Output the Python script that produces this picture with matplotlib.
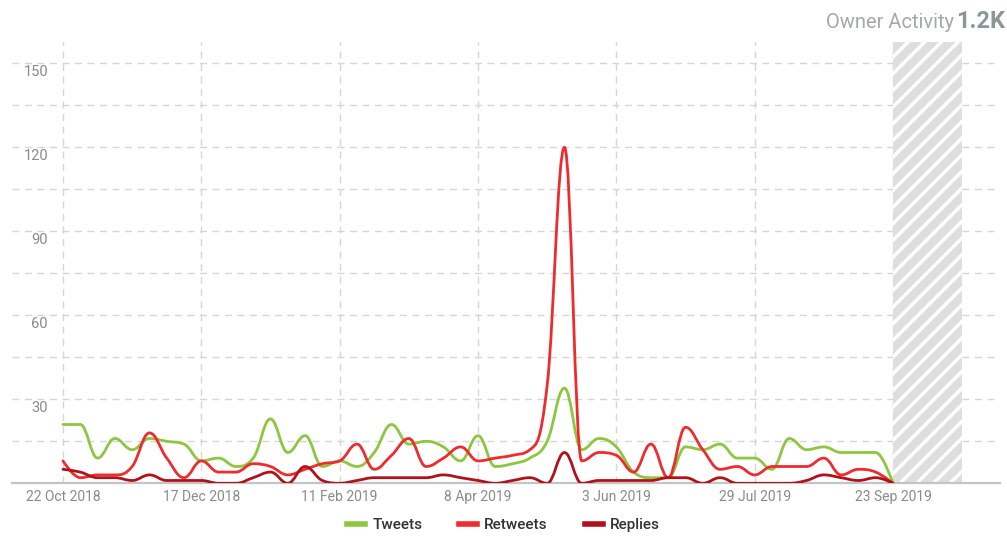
import datetime as dt
import matplotlib
matplotlib.use('Agg')
import matplotlib.pyplot as plt
import matplotlib.dates as mdates
from matplotlib.path import Path
from matplotlib.patches import PathPatch
from matplotlib.lines import Line2D
from matplotlib import transforms

plt.rcParams['font.family'] = ['Roboto', 'DejaVu Sans']
plt.rcParams['hatch.linewidth'] = 2.5

# weekly buckets starting 22 Oct 2018
start = dt.date(2018, 10, 22)
weeks = [start + dt.timedelta(weeks=i) for i in range(49)]

tweets = [21, 21, 9, 16, 12, 16, 15, 14, 8, 9,
          6, 9, 23, 11, 17, 6, 8, 6, 11, 21,
          14, 15, 13, 8, 17, 6, 7, 9, 15, 34,
          12, 16, 13, 4, 2, 2, 13, 12, 14, 9,
          9, 5, 16, 12, 13, 11, 11, 11, 0]
retweets = [8, 2, 3, 3, 6, 18, 9, 2, 8, 4,
            4, 7, 6, 3, 5, 7, 8, 14, 5, 10,
            16, 6, 9, 13, 8, 9, 10, 12, 35, 120,
            8, 11, 10, 4, 14, 2, 20, 12, 5, 6,
            3, 6, 6, 6, 9, 3, 5, 4, 0]
replies = [5, 4, 2, 2, 1, 3, 1, 1, 1, 0,
           0, 2, 4, 0, 6, 1, 0, 1, 2, 2,
           2, 2, 3, 2, 1, 0, 1, 2, 0, 11,
           0, 1, 1, 1, 1, 2, 2, 0, 2, 0,
           0, 0, 0, 1, 3, 2, 1, 2, 0]

series_names = ['Tweets', 'Retweets', 'Replies']
series_colors = ['#8dc63f', '#ef2b2d', '#b0121b']

y_grid = list(range(0, 151, 15))
y_labels = [30, 60, 90, 120, 150]
x_ticks = [start + dt.timedelta(weeks=8 * i) for i in range(7)]
total_label = '1.2K'


def spline_path(xs, ys, smoothing=1.5):
    # bezier spline, same control point rule as a highcharts 'spline' series
    n = len(xs)
    left = [(xs[i], ys[i]) for i in range(n)]
    right = [(xs[i], ys[i]) for i in range(n)]
    d = smoothing + 1
    for i in range(1, n - 1):
        x, y = xs[i], ys[i]
        lx, ly = xs[i - 1], ys[i - 1]
        nx, ny = xs[i + 1], ys[i + 1]
        lcx = (smoothing * x + lx) / d
        lcy = (smoothing * y + ly) / d
        rcx = (smoothing * x + nx) / d
        rcy = (smoothing * y + ny) / d
        corr = (rcy - lcy) * (rcx - x) / (rcx - lcx) + y - rcy
        lcy += corr
        rcy += corr
        if lcy > ly and lcy > y:
            lcy = max(ly, y)
            rcy = 2 * y - lcy
        elif lcy < ly and lcy < y:
            lcy = min(ly, y)
            rcy = 2 * y - lcy
        if rcy > ny and rcy > y:
            rcy = max(ny, y)
            lcy = 2 * y - rcy
        elif rcy < ny and rcy < y:
            rcy = min(ny, y)
            lcy = 2 * y - rcy
        left[i] = (lcx, lcy)
        right[i] = (rcx, rcy)
    verts = [(xs[0], ys[0])]
    codes = [Path.MOVETO]
    for i in range(1, n):
        verts += [right[i - 1], left[i], (xs[i], ys[i])]
        codes += [Path.CURVE4] * 3
    return Path(verts, codes)


fig = plt.figure(figsize=(10.07, 5.36), dpi=100)
ax = fig.add_axes([12 / 1007, (536 - 483.3) / 536, 988 / 1007, (483.3 - 42) / 536])

x0 = mdates.date2num(start)
px_day = 830 / 336
ax.set_xlim(x0 - 51 / px_day, x0 + 937 / px_day)
ax.set_ylim(0, (483.3 - 42) / 2.8)

xs = [mdates.date2num(w) for w in weeks]

# grey hatched band after the last bucket
ax.axvspan(xs[-1], xs[-1] + 28, facecolor='#dedede', edgecolor='white',
           hatch='//', lw=0, zorder=1)

for name, vals, col in zip(series_names, [tweets, retweets, replies], series_colors):
    ax.add_patch(PathPatch(spline_path(xs, vals), fill=False, edgecolor=col,
                           lw=2, capstyle='round', joinstyle='round', zorder=3))

ax.set_yticks(y_grid)
ax.set_yticklabels([])
ax.set_xticks([mdates.date2num(t) for t in x_ticks])
ax.set_xticklabels([f'{t.day} {t:%b %Y}' for t in x_ticks])
ax.tick_params(axis='both', length=0)
ax.tick_params(axis='x', colors='#8a8a8a', labelsize=10, pad=5)
ax.set_axisbelow(True)
ax.grid(True, color='#d6d6d6', linestyle=(0, (5, 4)), lw=1)

for s in ['top', 'right', 'left']:
    ax.spines[s].set_visible(False)
ax.spines['bottom'].set_color('#c4c4c4')
ax.spines['bottom'].set_linewidth(1.6)

# y labels sit just under their gridline
tr = transforms.blended_transform_factory(ax.transAxes, ax.transData)
tr = tr + transforms.ScaledTranslation(0, -9 / 100, fig.dpi_scale_trans)
for v in y_labels:
    ax.text(36 / 988, v, str(v), transform=tr, ha='right', va='center',
            fontsize=10.5, color='#8a8a8a')

fig.text(954 / 1007, 1 - 28 / 536, 'Owner Activity', ha='right', va='baseline',
         fontsize=14.5, color='#a3a8a8')
fig.text(1005 / 1007, 1 - 28 / 536, total_label, ha='right', va='baseline',
         fontsize=17, fontweight='bold', color='#8b9797')

handles = [Line2D([], [], color=c, lw=4) for c in series_colors]
leg = fig.legend(handles, series_names, loc='center', bbox_to_anchor=(0.5, 1 - 525 / 536),
                 ncol=3, frameon=False, handlelength=1.2, handletextpad=0.45,
                 columnspacing=2.4, prop={'size': 11, 'weight': 'medium'})
for t in leg.get_texts():
    t.set_color('#333333')

fig.savefig('out.png', dpi=100)
